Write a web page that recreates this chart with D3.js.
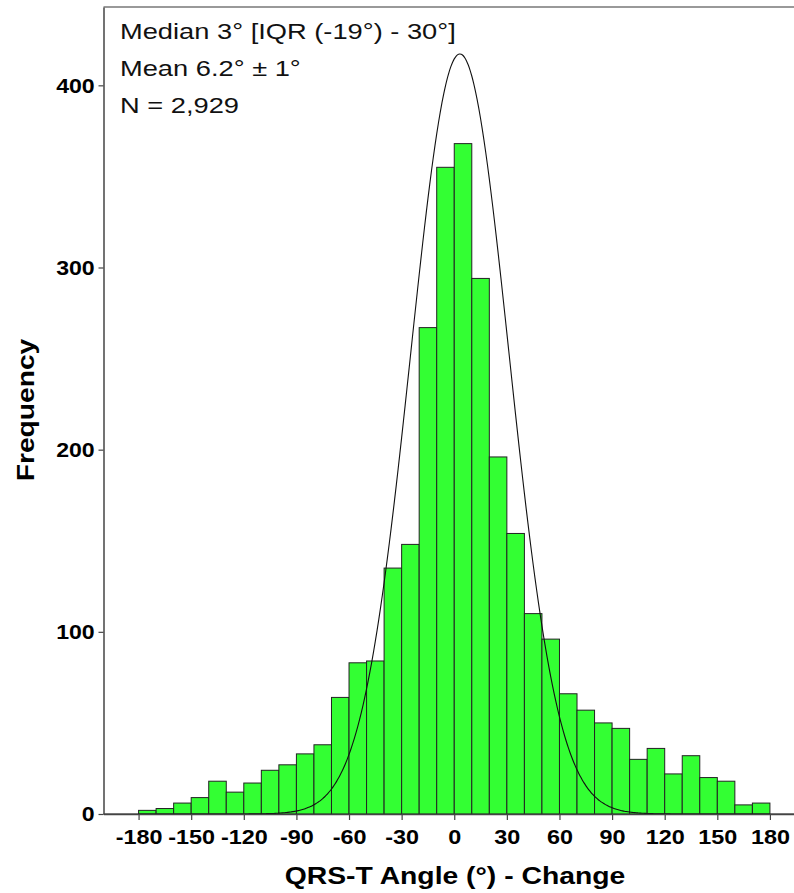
<!DOCTYPE html>
<html>
<head>
<meta charset="utf-8">
<script src="https://cdn.jsdelivr.net/npm/d3@7"></script>
<style>
  body { margin: 0; background: #fff; }
  svg { display: block; font-family: "Liberation Sans", Arial, sans-serif; }
</style>
</head>
<body>
<div id="chart"></div>
<script>
// bin lower edges, 10 degree bins
const BIN_STARTS = d3.range(-180, 180, 10);
const COUNTS = [
    2, 3, 6, 9, 18, 12, 17, 24, 27, 33, 38, 64, 83, 84, 135,
    148, 267, 355, 368, 294, 196, 154,
    110, 96, 66, 57, 50, 47, 30, 36, 22, 32, 20, 18, 5, 6
];
const X_TICKS = [-180, -150, -120, -90, -60, -30, 0, 30, 60, 90, 120, 150, 180];
const Y_TICKS = [0, 100, 200, 300, 400];
const STATS_LINES = ["Median 3° [IQR (-19°) - 30°]", "Mean 6.2° ± 1°", "N = 2,929"];
// normal curve as drawn (fit parameters)
const CURVE_MEAN = 3.2, CURVE_SD = 28, CURVE_N = 2929, BIN_W = 10;

const width = 794, height = 893;

const svg = d3.select("#chart").append("svg")
    .attr("width", width)
    .attr("height", height)
    .style("background", "#fff");

const x = d3.scaleLinear().domain([-200, 200]).range([103.5, 805]);
const y = d3.scaleLinear().domain([0, 443]).range([814, 7]);

const bins = BIN_STARTS.map((s, i) => ({ x0: s, x1: s + BIN_W, n: COUNTS[i] }));

svg.append("g")
    .selectAll("rect")
    .data(bins)
    .enter()
    .append("rect")
    .attr("x", d => x(d.x0))
    .attr("y", d => y(d.n))
    .attr("width", d => x(d.x1) - x(d.x0))
    .attr("height", d => y(0) - y(d.n))
    .attr("fill", "#33ff33")
    .attr("stroke", "#222")
    .attr("stroke-width", 1);

// normal curve
const curvePts = d3.range(-200, 200.5, 1).map(v => {
    const z = (v - CURVE_MEAN) / CURVE_SD;
    return [v, CURVE_N * BIN_W / (CURVE_SD * Math.sqrt(2 * Math.PI)) * Math.exp(-0.5 * z * z)];
});

svg.append("path")
    .datum(curvePts)
    .attr("fill", "none")
    .attr("stroke", "#111")
    .attr("stroke-width", 1.1)
    .attr("d", d3.line().x(d => x(d[0])).y(d => y(d[1])).curve(d3.curveBasis));

// frame top
svg.append("line")
    .attr("x1", x(-200)).attr("x2", width)
    .attr("y1", y(443)).attr("y2", y(443))
    .attr("stroke", "#777").attr("stroke-width", 1.6);

// x axis
const xAxis = svg.append("g")
    .attr("transform", `translate(0,${y(0)})`)
    .call(d3.axisBottom(x).tickValues(X_TICKS).tickFormat(d => String(d))
        .tickSize(6).tickPadding(10).tickSizeOuter(0));
xAxis.select(".domain").attr("stroke", "#444").attr("stroke-width", 1.5);
xAxis.selectAll(".tick line").attr("stroke", "#444").attr("stroke-width", 1.2);
xAxis.selectAll(".tick text")
    .style("font-size", "19.5px")
    .style("font-weight", "bold")
    .style("font-family", "Liberation Sans, Arial, sans-serif")
    .attr("fill", "#000")
    .attr("transform", "scale(1.2,1)");

// y axis
const yAxis = svg.append("g")
    .attr("transform", `translate(${x(-200)},0)`)
    .call(d3.axisLeft(y).tickValues(Y_TICKS).tickSize(5).tickPadding(3).tickSizeOuter(0));
yAxis.select(".domain").attr("stroke", "#444").attr("stroke-width", 1.5);
yAxis.selectAll(".tick line").attr("stroke", "#444").attr("stroke-width", 1.2);
yAxis.selectAll(".tick text")
    .style("font-size", "21px")
    .style("font-weight", "bold")
    .style("font-family", "Liberation Sans, Arial, sans-serif")
    .attr("fill", "#000")
    .attr("transform", "scale(1.1,1)");

// axis titles
svg.append("text")
    .attr("transform", "translate(455,884) scale(1.18,1)")
    .attr("text-anchor", "middle")
    .style("font-size", "24px")
    .style("font-weight", "bold")
    .text("QRS-T Angle (°) - Change");

svg.append("text")
    .attr("transform", "translate(34,410) rotate(-90) scale(1.2,1)")
    .attr("text-anchor", "middle")
    .style("font-size", "23.5px")
    .style("font-weight", "bold")
    .text("Frequency");

// stats box text
svg.append("g")
    .selectAll("text")
    .data(STATS_LINES)
    .enter()
    .append("text")
    .attr("transform", (d, i) => `translate(120,${39 + i * 37}) scale(1.24,1)`)
    .style("font-size", "22px")
    .attr("fill", "#111")
    .text(d => d);
</script>
</body>
</html>
